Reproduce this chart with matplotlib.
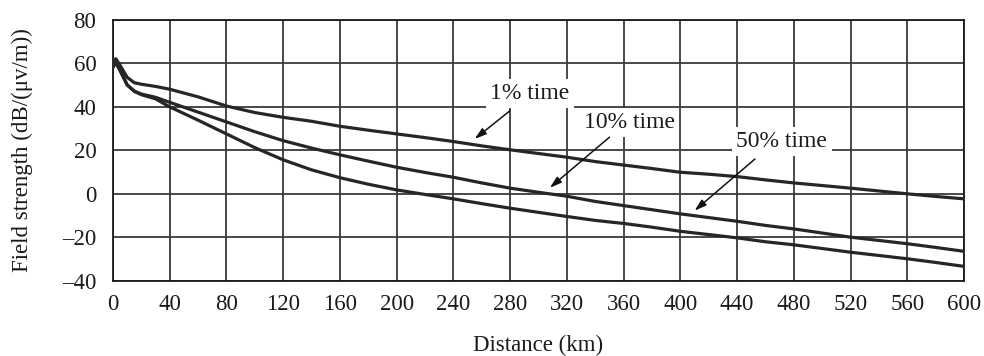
import matplotlib
matplotlib.use("Agg")
import matplotlib.pyplot as plt

# ---- data ----
dist = [0, 2, 5, 10, 15, 20, 30, 40, 60, 80, 100, 120, 140, 160, 180, 200, 220, 240,
        260, 280, 300, 320, 340, 360, 380, 400, 420, 440, 460, 480, 500, 520, 540,
        560, 580, 600]
time_1 = [59.5, 62.0, 59.0, 53.5, 51.0, 50.3, 49.3, 48.0, 44.5, 40.3, 37.3, 35.1,
          33.3, 31.0, 29.2, 27.5, 25.8, 24.0, 22.0, 20.2, 18.5, 16.8, 14.8, 13.2,
          11.6, 9.9, 9.0, 7.9, 6.4, 5.0, 3.8, 2.6, 1.3, 0.0, -1.2, -2.3]
time_10 = [58.5, 60.5, 57.0, 50.0, 47.2, 45.8, 44.3, 42.0, 37.5, 33.0, 28.5, 24.4,
           21.0, 17.9, 15.0, 12.2, 9.8, 7.6, 5.0, 2.6, 0.7, -1.1, -3.5, -5.4, -7.3,
           -9.2, -10.9, -12.6, -14.5, -16.1, -18.0, -19.9, -21.4, -22.9, -24.6, -26.4]
time_50 = [58.0, 60.0, 56.5, 50.0, 47.0, 45.5, 43.6, 39.9, 33.8, 27.5, 21.2, 15.6,
           11.0, 7.4, 4.4, 1.8, -0.3, -2.3, -4.5, -6.6, -8.5, -10.4, -12.2, -13.6,
           -15.3, -17.2, -18.7, -20.2, -22.0, -23.4, -25.1, -26.8, -28.3, -29.8,
           -31.5, -33.3]

x_ticks = list(range(0, 601, 40))
y_ticks = list(range(-40, 81, 20))

labels = ["1% time", "10% time", "50% time"]
label_pos = [(294, 46), (364, 32.8), (471.5, 24)]
arrow_start = [(280, 38.2), (350, 26), (452.6, 16)]
arrow_tip = [(255, 25.2), (308, 2.8), (410, -7.7)]

# ---- figure ----
plt.rcParams['font.family'] = ['Liberation Serif', 'DejaVu Serif']
fig = plt.figure(figsize=(9.84, 3.56), dpi=100)
ax = fig.add_axes([0.1148, 0.2107, 0.865, 0.7345])

line_color = '#262626'
for series in (time_1, time_10, time_50):
    ax.plot(dist, series, color=line_color, lw=2.3, zorder=3)

ax.set_xlim(0, 600)
ax.set_ylim(-40, 80)
ax.set_xticks(x_ticks)
ax.set_yticks(y_ticks)
ax.set_yticklabels([("\u2013" + str(-t)) if t < 0 else str(t) for t in y_ticks])
ax.grid(True, color='#3a3a3a', lw=1.3, zorder=1)
ax.set_axisbelow(True)
ax.tick_params(length=0, labelsize=16.5, colors='#1a1a1a')
ax.tick_params(axis='x', pad=9.5)
ax.tick_params(axis='y', pad=12)
for s in ax.spines.values():
    s.set_linewidth(1.3)
    s.set_color('#1a1a1a')

ax.set_xlabel("Distance (km)", fontsize=16.5, labelpad=14.5, color='#1a1a1a')
ax.set_ylabel("Field strength (dB/(\u03bcv/m))", fontsize=16.5, labelpad=21, color='#1a1a1a')

for lab, pos, st, tip in zip(labels, label_pos, arrow_start, arrow_tip):
    ax.text(pos[0], pos[1], lab, fontsize=17, ha='center', va='center', color='#1a1a1a',
            zorder=4, bbox=dict(facecolor='white', edgecolor='none', pad=3))
    ax.annotate("", xy=tip, xytext=st, zorder=5,
                arrowprops=dict(arrowstyle='-|>,head_length=0.7,head_width=0.22',
                                color='#111111', lw=1.1, shrinkA=0, shrinkB=0))

fig.savefig("out.png", dpi=100)
